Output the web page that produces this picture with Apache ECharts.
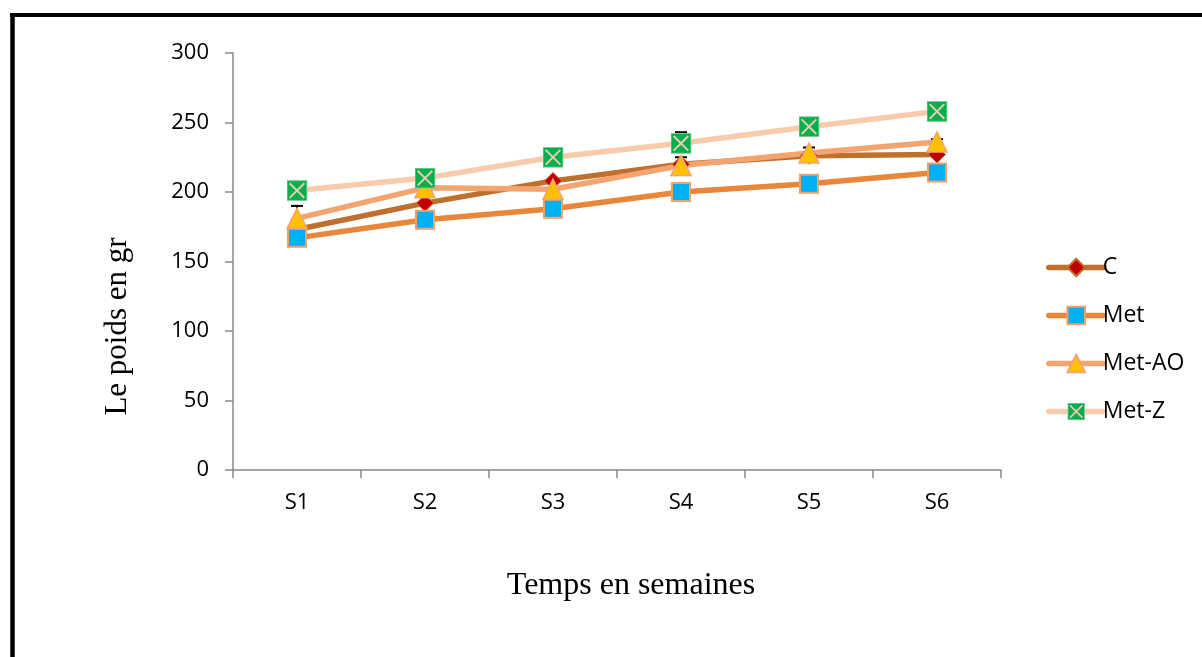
<!DOCTYPE html>
<html>
<head>
<meta charset="utf-8">
<script src="https://cdn.jsdelivr.net/npm/echarts@6/dist/echarts.min.js"></script>
<style>
html,body{margin:0;padding:0;background:#fff;}
#chart{width:1202px;height:657px;}
</style>
</head>
<body>
<div id="chart"></div>
<script>
const categories = ['S1', 'S2', 'S3', 'S4', 'S5', 'S6'];
const yTicks = [0, 50, 100, 150, 200, 250, 300];
const seriesNames = ['C', 'Met', 'Met-AO', 'Met-Z'];
const valuesC = [173, 192, 208, 220, 226, 227];
const valuesMet = [167, 180, 188, 200, 206, 214];
const valuesMetAO = [181, 203, 202, 219, 228, 236];
const valuesMetZ = [201, 210, 225, 235, 247, 258];
// upper error bars that can be seen in the picture (null = hidden)
const errC = [null, null, null, 5, 6, 11];
const errMetAO = [9, null, null, null, null, null];
const errMetZ = [null, null, null, 8, null, null];

const font = '"Open Sans", Lato, sans-serif';
const serif = '"Liberation Serif", "DejaVu Serif", serif';

const metZSvg = '<svg xmlns="http://www.w3.org/2000/svg" width="40" height="40" viewBox="0 0 40 40">' +
  '<rect x="1" y="1" width="38" height="38" fill="#00B050" stroke="#7fd08f" stroke-width="2"/>' +
  '<line x1="6" y1="6" x2="34" y2="34" stroke="#F8CBAD" stroke-width="3.5"/>' +
  '<line x1="34" y1="6" x2="6" y2="34" stroke="#F8CBAD" stroke-width="3.5"/></svg>';
const metZSymbol = 'image://data:image/svg+xml;charset=utf-8,' + encodeURIComponent(metZSvg);

function errSeries(values, errs) {
  const data = values.map((v, i) => [i, v, errs[i]]).filter(d => d[2] != null);
  return {
    type: 'custom',
    z: 1,
    silent: true,
    data: data,
    renderItem: function (params, api) {
      const p0 = api.coord([api.value(0), api.value(1)]);
      const p1 = api.coord([api.value(0), api.value(1) + api.value(2)]);
      return {
        type: 'group',
        children: [
          { type: 'line', shape: { x1: p0[0], y1: p0[1], x2: p1[0], y2: p1[1] }, style: { stroke: '#000', lineWidth: 1.5 } },
          { type: 'line', shape: { x1: p1[0] - 6, y1: p1[1], x2: p1[0] + 6, y2: p1[1] }, style: { stroke: '#000', lineWidth: 2 } }
        ]
      };
    }
  };
}

const chart = echarts.init(document.getElementById('chart'));
chart.setOption({
  backgroundColor: '#fff',
  animation: false,
  grid: { left: 233, right: 201, top: 53, bottom: 187, containLabel: false },
  xAxis: {
    type: 'category',
    data: categories,
    boundaryGap: true,
    name: 'Temps en semaines',
    nameLocation: 'middle',
    nameGap: 100,
    nameTextStyle: { fontFamily: serif, fontSize: 32, color: '#000', padding: [0, 0, 0, 28] },
    axisLine: { lineStyle: { color: '#888', width: 1.5 } },
    axisTick: { show: true, length: 8, alignWithLabel: false, lineStyle: { color: '#888', width: 1.5 } },
    axisLabel: { fontFamily: font, fontSize: 22, color: '#000', margin: 22 },
    splitLine: { show: false }
  },
  yAxis: {
    type: 'value',
    min: yTicks[0],
    max: yTicks[yTicks.length - 1],
    interval: yTicks[1] - yTicks[0],
    name: 'Le poids en gr',
    nameLocation: 'middle',
    nameGap: 100,
    nameRotate: 90,
    nameTextStyle: { fontFamily: serif, fontSize: 31, color: '#000', padding: [0, 130, 0, 0] },
    axisLine: { show: true, lineStyle: { color: '#888', width: 1.5 } },
    axisTick: { show: true, length: 8, lineStyle: { color: '#888', width: 1.5 } },
    axisLabel: { fontFamily: font, fontSize: 22, color: '#000', margin: 24 },
    splitLine: { show: false }
  },
  legend: {
    orient: 'vertical',
    left: 1041,
    top: 251,
    itemWidth: 55,
    itemHeight: 22,
    itemGap: 25,
    lineStyle: { width: 5.5, cap: 'round' },
    textStyle: { fontFamily: font, fontSize: 23, color: '#000', padding: [0, 0, 0, -6], lineHeight: 22 },
    data: seriesNames
  },
  graphic: [
    { type: 'line', shape: { x1: 12.5, y1: 13, x2: 12.5, y2: 657 }, style: { stroke: '#000', lineWidth: 4.5 }, z: 100 },
    { type: 'line', shape: { x1: 10, y1: 15, x2: 1202, y2: 15 }, style: { stroke: '#000', lineWidth: 4 }, z: 100 }
  ],
  series: [
    errSeries(valuesC, errC),
    errSeries(valuesMetAO, errMetAO),
    errSeries(valuesMetZ, errMetZ),
    {
      name: seriesNames[0], type: 'line', z: 2, data: valuesC,
      lineStyle: { color: '#C0702E', width: 5.5, cap: 'round' },
      symbol: 'diamond', symbolSize: 17, showAllSymbol: true,
      itemStyle: { color: '#C00000', borderColor: '#C0702E', borderWidth: 1 }
    },
    {
      name: seriesNames[1], type: 'line', z: 2, data: valuesMet,
      lineStyle: { color: '#E8873A', width: 5.5, cap: 'round' },
      symbol: 'rect', symbolSize: 18, showAllSymbol: true,
      itemStyle: { color: '#00B0F0', borderColor: '#F0A06A', borderWidth: 2 }
    },
    {
      name: seriesNames[2], type: 'line', z: 2, data: valuesMetAO,
      lineStyle: { color: '#F4A470', width: 5.5, cap: 'round' },
      symbol: 'triangle', symbolSize: 20, showAllSymbol: true,
      itemStyle: { color: '#FFC000', borderColor: '#F4A470', borderWidth: 1.5 }
    },
    {
      name: seriesNames[3], type: 'line', z: 2, data: valuesMetZ,
      lineStyle: { color: '#F8CBAD', width: 5.5, cap: 'round' },
      symbol: metZSymbol, symbolSize: 21, showAllSymbol: true,
      itemStyle: { color: '#00B050' }
    }
  ]
});
</script>
</body>
</html>
